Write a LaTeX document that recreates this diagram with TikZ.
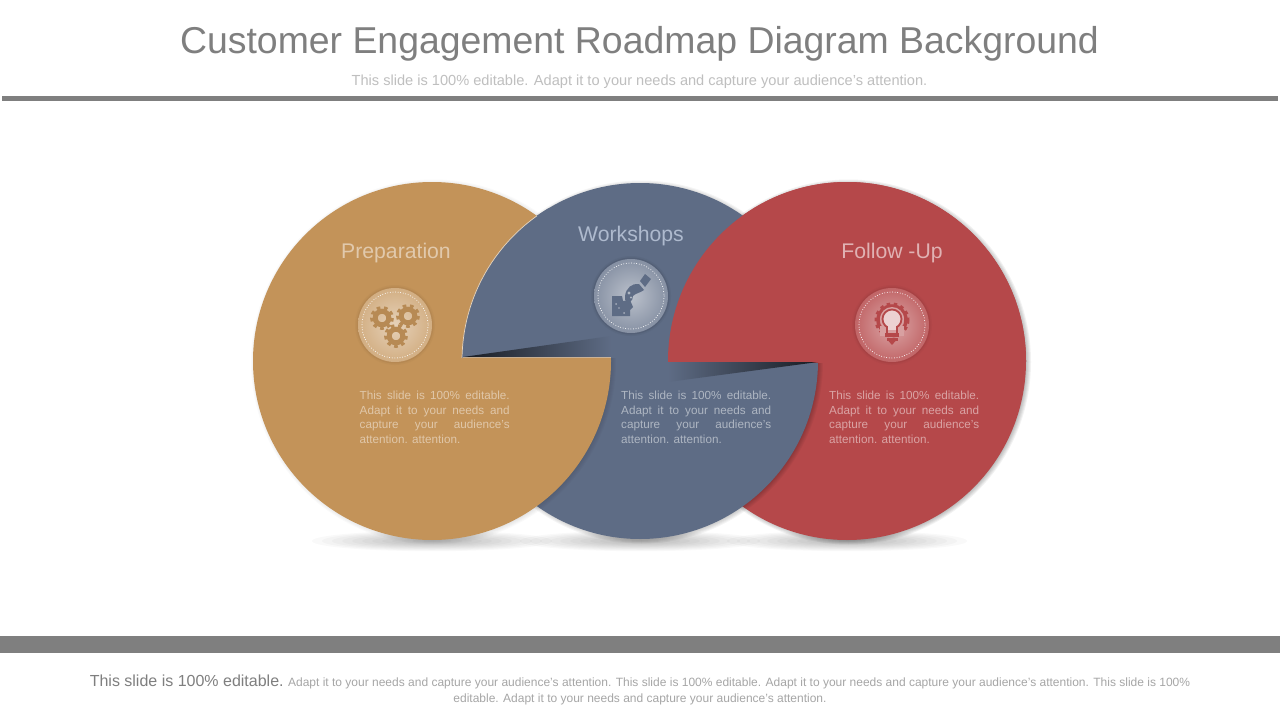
\documentclass[tikz,border=0pt]{standalone}
\usepackage{fontspec}
\setmainfont{Liberation Sans}
\usetikzlibrary{calc}
\definecolor{cor}{HTML}{C39359}
\definecolor{cbl}{HTML}{5E6C85}
\definecolor{cre}{HTML}{B5484A}
\definecolor{rule}{HTML}{7F7F7F}
\definecolor{wlab}{HTML}{AEBACE}
\tikzset{
  lab/.style={font=\fontsize{21.2}{24}\selectfont,inner sep=0pt,anchor=base},
  body/.style={font=\fontsize{11.7}{14.5}\selectfont,inner sep=0pt,anchor=north west,align=left},
  dots/.style={draw=white,line width=1pt,line cap=round,dash pattern=on 0pt off 2.6pt},
}
\newcommand{\softshadow}[4]{% x y r opacity
  \foreach \k in {6,5,4,3,2,1}{\fill[black,opacity=#4] (#1+1.5,#2+1) circle ({#3+\k-2.5});}}
\newcommand{\groundshadow}[2]{%
  \begin{scope}[shift={(#1,#2)},yscale=.085]
  \foreach \k in {12,11,10,9,8,7,6,5,4,3,2,1}{\fill[black,opacity=.022] (0,0) circle ({\k*10});}
  \end{scope}}
\newcommand{\medal}[5]{% x y inner outer edge
  \fill[#5,opacity=.3] (#1,#2) circle (40);
  \fill[#5,opacity=.8] (#1,#2) circle (38.5);
  \shade[inner color=#3,outer color=#4] (#1,#2) circle (37);
  \draw[dots] (#1,#2) circle (33);}
\newcommand{\gearicon}[3]{% x y colour
  \draw[#3,line width=5pt] (#1,#2) circle (6.8);
  \draw[#3,line width=3.5pt,dash pattern=on 3.55pt off 3.55pt] (#1,#2) circle (10.2);}
\newcommand{\blk}{\makebox[150pt][s]{This slide is 100\% editable.}\\\makebox[150pt][s]{Adapt it to your needs and}\\\makebox[150pt][s]{capture your audience's}\\attention. attention.}
\begin{document}
\begin{tikzpicture}[x=1pt,y=-1pt]
\useasboundingbox (0,0) rectangle (1280,720);
\fill[white] (0,0) rectangle (1280,720);
% title block
\node[inner sep=0pt,text=rule,font=\fontsize{37.4}{44}\selectfont] (title) at (639.5,44) {Customer Engagement Roadmap Diagram Background};
\node[inner sep=0pt,text=black!25,font=\fontsize{14.6}{16}\selectfont] (sub) at (639.5,81.5) {This slide is 100\% editable. Adapt it to your needs and capture your audience's attention.};
\fill[rule] (2,96) rectangle (1278,101);
\fill[rule] (0,636) rectangle (1280,653);
% ground shadows
\groundshadow{432}{541}
\groundshadow{640}{541}
\groundshadow{847}{541}
% red
\softshadow{847}{361}{179}{.05}
\fill[cre] (847,361) circle (179);
% blue
\softshadow{640}{361}{178}{.04}
\fill[cbl] (640,361) circle (178);
% red upper part over blue
\begin{scope}
\clip (600,0) rectangle (1280,362);
\fill[cre] (847,361) circle (179);
\end{scope}
% orange
\softshadow{432}{361}{179}{.02}
\fill[cor] (432,361) circle (179);
% blue upper part over orange
\begin{scope}
\clip (432,361) circle (192);
\clip (400,0) rectangle (700,357);
\fill[cbl] (640,361) circle (178);
\end{scope}
\begin{scope}
\clip (432,361) circle (179);
\clip (400,0) rectangle (700,357);
\draw[white!60!cor,line width=.7pt] (640,361) circle (178);
\end{scope}
\draw[white!40!cor,line width=.5pt] (463,357) -- (611,357);
% wedges
\shade[left color=black!75!cbl,right color=cbl] (463,357) -- (611,336) -- (611,357) -- cycle;
\shade[left color=cbl,right color=black!75!cbl] (668,362) -- (818,362) -- (668,382) -- cycle;
% labels
\node[lab,text=white!50!cor] (prep) at (396,258) {Preparation};
\node[lab,text=wlab] (work) at (631,241) {Workshops};
\node[lab,text=white!58!cre] (foll) at (892,258) {Follow -Up};
% medallions
\medal{395}{325}{white!58!cor}{white!25!cor}{black!8!cor}
\medal{631}{296}{white!58!cbl}{white!25!cbl}{black!12!cbl}
\medal{892}{325}{white!52!cre}{white!16!cre}{black!8!cre}
% gears
\gearicon{382}{318}{black!6!cor}
\gearicon{408}{316}{black!6!cor}
\gearicon{396}{336}{black!6!cor}
% puzzle and hand
\fill[cbl] (612,296) -- (622,296) -- (623,301) -- (630,300) -- (633,307) -- (630,310) -- (630,316) -- (612,316) -- cycle;
\fill[white!45!cbl] (616,304) circle (1) (619,308) circle (.8) (624,313) circle (1);
\fill[cbl] (625,296) .. controls (626,288) and (632,283) .. (639,284) -- (644,290) .. controls (640,293) and (636,293) .. (633,296) .. controls (633,302) and (628,304) .. (625,300) -- cycle;
\fill[cbl] (640,281) -- (645,274) -- (651,279) -- (645,287) -- cycle;
\fill[white!50!cbl] (629,293) circle (1.6) (631,297.5) circle (1.2);
% bulb
\draw[cre,line width=3.5pt] (892,320) circle (14);
\draw[cre,line width=3pt,dash pattern=on 3.5pt off 3.5pt] (892,320) circle (16);
\fill[white!48!cre] (892,319) circle (12);
\fill[white!48!cre] (880,326) rectangle (904,336);
\fill[white!75!cre] (892,319) circle (9.5);
\draw[cre,line width=1.8pt] (892,319) circle (9.5);
\fill[white!75!cre] (887,326) rectangle (897,330);
\draw[cre,line width=1.8pt] (887,326) -- (887,333) (897,326) -- (897,333);
\fill[cre] (885,333) rectangle (899,336.5);
\fill[cre] (886.5,337.5) rectangle (897.5,340.5);
\fill[cre] (888.5,341) -- (895.5,341) -- (892,345) -- cycle;
% body text
\node[body,text=white!48!cor] (t1) at (359.5,391) {\blk};
\node[body,text=white!50!cbl] (t2) at (621,391) {\blk};
\node[body,text=white!50!cre] (t3) at (829,391) {\blk};
% footer
\node[inner sep=0pt,align=center,text=black!35,font=\fontsize{12}{16}\selectfont] (foot) at (640,690) {{\fontsize{16}{16}\selectfont\color{rule}This slide is 100\% editable.} Adapt it to your needs and capture your audience's attention. This slide is 100\% editable. Adapt it to your needs and capture your audience's attention. This slide is 100\%\\editable. Adapt it to your needs and capture your audience's attention.};
\end{tikzpicture}
\end{document}
